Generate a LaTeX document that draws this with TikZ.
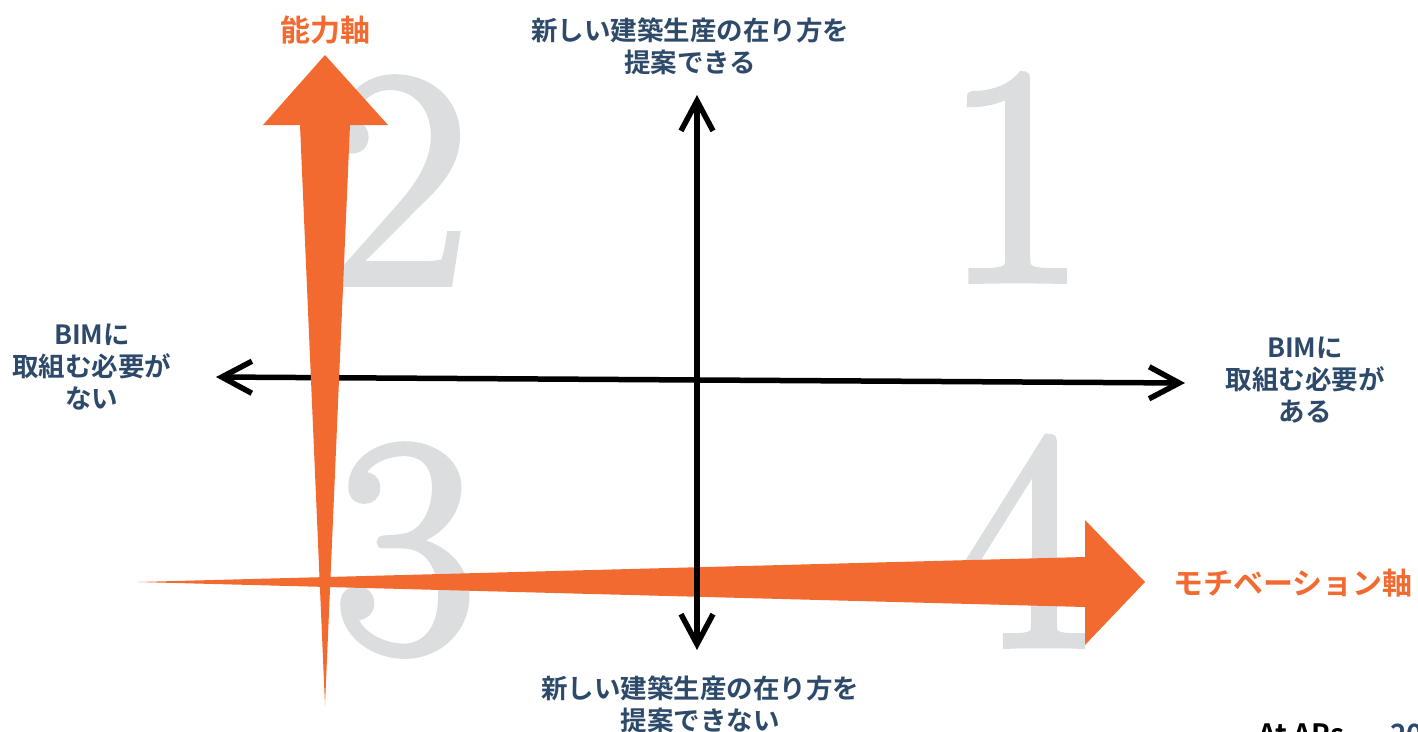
\documentclass[tikz,border=0pt]{standalone}
\usepackage{fontspec}
\newfontfamily\jp{Noto Sans CJK JP}[BoldFont={Noto Sans CJK JP Bold}]
\newfontfamily\digfont{Latin Modern Roman}[FakeBold=2.5]
\usetikzlibrary{arrows.meta}
\definecolor{orng}{HTML}{F26A30}
\definecolor{navy}{HTML}{2D4A6A}
\definecolor{digitgray}{HTML}{DCDDDF}
\tikzset{
  digit/.style={anchor=base, text=digitgray, inner sep=0pt, font=\digfont\fontsize{310}{310}\selectfont},
  axis/.style={line width=5.5pt, black, {Straight Barb[length=30pt,width=32pt]}-{Straight Barb[length=30pt,width=32pt]}},
  lbl/.style={align=center, text=navy, inner sep=0pt, font=\jp\bfseries\fontsize{26.5}{32}\selectfont},
  olbl/.style={text=orng, inner sep=0pt, font=\jp\bfseries\fontsize{30}{32}\selectfont},
  oarrow/.style={fill=orng, draw=none}
}
\begin{document}
\begin{tikzpicture}[x=1pt,y=-1pt]
\useasboundingbox (0,0) rectangle (1418,731);
% big quadrant digits
\node[digit] (d1) at (1015,280) {1};
\node[digit] (d2) at (398,283) {2};
\node[digit] (d3) at (405,650) {3};
\node[digit] (d4) at (1020,645) {4};
% horizontal orange arrow (motivation axis)
\fill[oarrow] (138,582) -- (1085,557) -- (1085,520) -- (1145,582) -- (1085,645) -- (1085,607) -- cycle;
% black axes
\coordinate (L) at (216,377);
\coordinate (R) at (1185,383);
\coordinate (T) at (697,95);
\coordinate (B) at (697,650);
\draw[axis] (L) -- (R);
\draw[axis] (B) -- (T);
% vertical orange arrow (ability axis)
\fill[oarrow] (325,705) -- (300,125) -- (263,125) -- (325,55) -- (388,125) -- (350,125) -- cycle;
% labels
\node[olbl] (ability) at (325,30) {能力軸};
\node[olbl] (motiv) at (1293,583) {モチベーション軸};
\node[lbl] (top) at (690,46) {新しい建築生産の在り方を\\提案できる};
\node[lbl] (bottom) at (700,704) {新しい建築生産の在り方を\\提案できない};
\node[lbl] (left) at (92,367) {BIMに\\取組む必要が\\ない};
\node[lbl] (right) at (1305,380) {BIMに\\取組む必要が\\ある};
% cut-off footer text
\node[anchor=base west, inner sep=0pt, font=\jp\bfseries\fontsize{28}{28}\selectfont] (footer) at (1258,744) {At APs};
\node[anchor=base west, inner sep=0pt, text=navy, font=\jp\bfseries\fontsize{28}{28}\selectfont] (pg) at (1390,744) {20};
\end{tikzpicture}
\end{document}
